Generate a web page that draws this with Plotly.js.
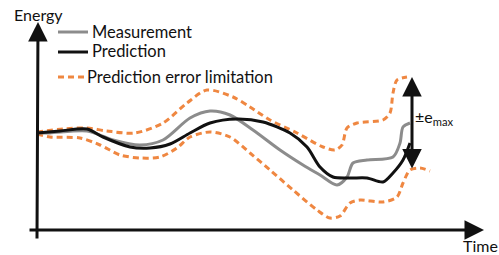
<!DOCTYPE html>
<html><head><meta charset="utf-8">
<script src="https://cdn.plot.ly/plotly-3.0.1.min.js"></script>
<style>html,body{margin:0;padding:0;background:#fff}#c{width:499px;height:255px}</style>
</head><body><div id="c"></div>
<script>
// time positions and energy levels (screen-row units, axis reversed)
var measX = [37,50,87,113,140,163,190,210,230,253,280,303,320,337,347,353,367,393,400,403,410];
var measY = [133,133,131,140,145,140,118,111,115,130,150,165,175,185,177,163,160,157,143,127,123];
var predX = [37,60,87,103,130,150,170,190,210,237,263,290,307,320,333,350,367,383,393,403,410];
var predY = [133,131,129,137,147,148,144,133,123,119,122,133,147,167,177,178,178,182,173,160,143];
var upX = [37,63,87,107,135,163,187,207,233,250,270,297,323,335,342,347,357,383,390,393,397,407];
var upY = [132,129,128,131,133,123,103,90,97,107,120,133,147,150,145,128,123,120,113,93,80,77];
var loX = [37,50,80,100,120,140,160,177,190,210,230,250,270,293,317,330,340,350,360,383,397,403,410,420,430];
var loY = [134,137,138,145,155,158,157,148,137,132,137,153,170,190,210,218,216,203,200,202,197,183,170,168,171];
var labels = ["Measurement","Prediction","Prediction error limitation"];
var axisLabels = ["Energy","Time"];
var emaxLabel = "±e<sub>max</sub>";

var orange = "#EF8741", gray = "#8C8C8C", black = "#111111";
var font = "Lato, 'Open Sans', sans-serif";

var traces = [
  {x: upX, y: upY, mode: "lines", line: {color: orange, width: 3, dash: "6px,4px", shape: "spline", smoothing: 0.8}},
  {x: loX, y: loY, mode: "lines", line: {color: orange, width: 3, dash: "6px,4px", shape: "spline", smoothing: 0.8}},
  {x: measX, y: measY, mode: "lines", line: {color: gray, width: 3, shape: "spline", smoothing: 0.8}},
  {x: predX, y: predY, mode: "lines", line: {color: black, width: 3, shape: "spline", smoothing: 0.8}}
];

var layout = {
  width: 499, height: 255,
  margin: {l: 0, r: 0, t: 0, b: 0},
  paper_bgcolor: "#fff", plot_bgcolor: "#fff",
  showlegend: false,
  xaxis: {range: [0, 499], visible: false, fixedrange: true},
  yaxis: {range: [255, 0], visible: false, fixedrange: true},
  shapes: [
    {type: "line", x0: 58, x1: 88, y0: 32, y1: 32, line: {color: gray, width: 3}},
    {type: "line", x0: 58, x1: 88, y0: 52, y1: 52, line: {color: black, width: 3}},
    {type: "line", x0: 58, x1: 85, y0: 77, y1: 77, line: {color: orange, width: 3, dash: "6px,4px"}}
  ],
  annotations: [
    {x: 38, y: 22, ax: 37, ay: 240, axref: "x", ayref: "y", xref: "x", yref: "y", text: "", showarrow: true, arrowhead: 2, arrowsize: 1.3, arrowwidth: 3, arrowcolor: black, standoff: 0},
    {x: 484, y: 230, ax: 28, ay: 230, axref: "x", ayref: "y", xref: "x", yref: "y", text: "", showarrow: true, arrowhead: 2, arrowsize: 1.3, arrowwidth: 3, arrowcolor: black, standoff: 0},
    {x: 412, y: 77, ax: 412, ay: 170, axref: "x", ayref: "y", xref: "x", yref: "y", text: "", showarrow: true, arrowhead: 2, arrowside: "end+start", arrowsize: 1.3, arrowwidth: 3, arrowcolor: black, standoff: 0, startstandoff: 0},
    {x: 38, y: 14, text: axisLabels[0], showarrow: false, xanchor: "center", yanchor: "middle", font: {family: font, size: 16, color: black}},
    {x: 480, y: 245, text: axisLabels[1], showarrow: false, xanchor: "center", yanchor: "middle", font: {family: font, size: 16, color: black}},
    {x: 90, y: 32, text: labels[0], showarrow: false, xanchor: "left", yanchor: "middle", font: {family: font, size: 16.5, color: black}},
    {x: 90, y: 51, text: labels[1], showarrow: false, xanchor: "left", yanchor: "middle", font: {family: font, size: 16.5, color: black}},
    {x: 85, y: 77, text: labels[2], showarrow: false, xanchor: "left", yanchor: "middle", font: {family: font, size: 16.5, color: black}},
    {x: 413, y: 117, text: emaxLabel, showarrow: false, xanchor: "left", yanchor: "middle", font: {family: font, size: 16, color: black}}
  ]
};
Plotly.newPlot("c", traces, layout, {staticPlot: true, displayModeBar: false});
</script></body></html>
